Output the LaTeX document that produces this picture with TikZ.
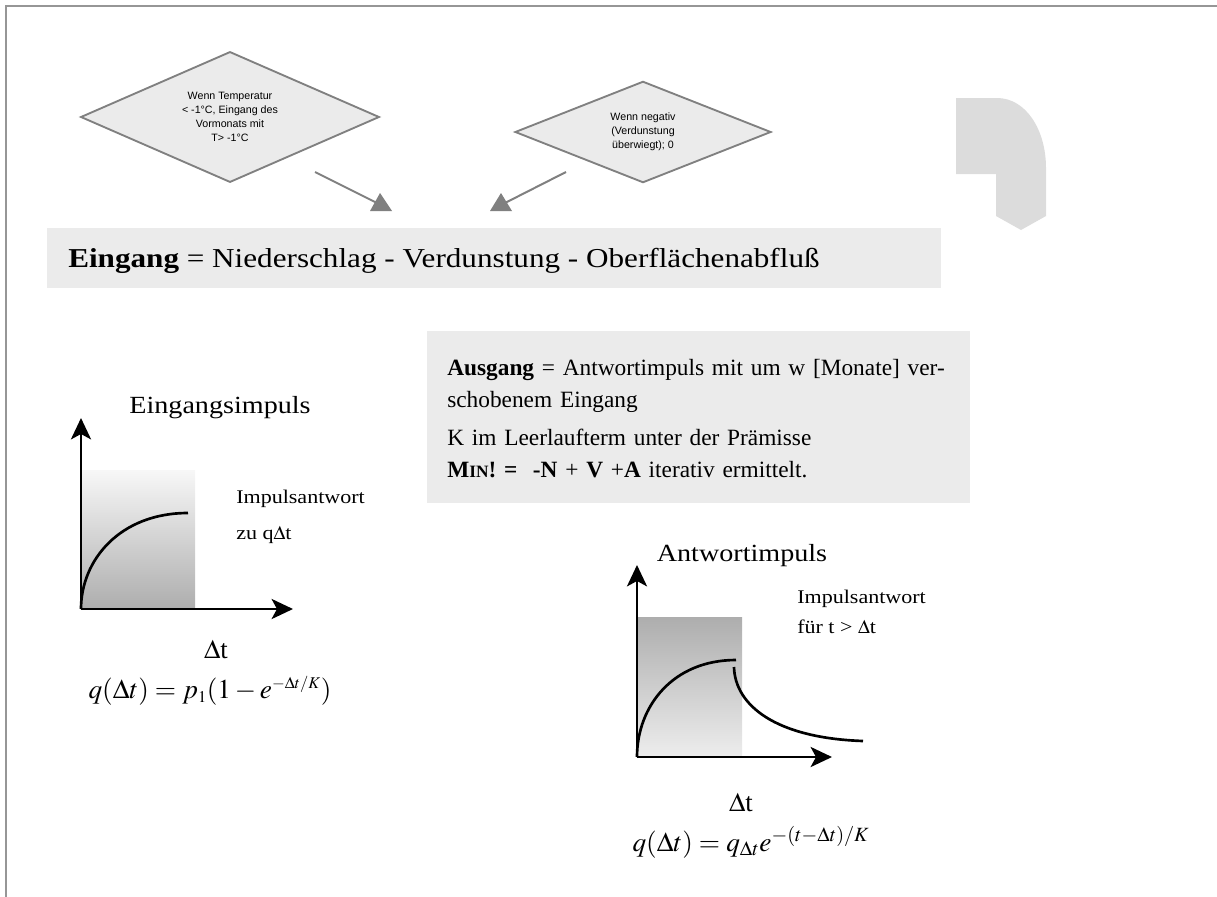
\documentclass[tikz,border=0pt]{standalone}
\usepackage{mathptmx}
\usepackage{fontspec}
\setmainfont{Liberation Serif}
\newfontfamily\pal{Liberation Serif}[FakeStretch=1.14]
\newfontfamily\arialfont{Liberation Sans}
\usetikzlibrary{shapes.geometric,arrows.meta,calc}
\definecolor{linegray}{HTML}{808080}
\definecolor{boxgray}{HTML}{EBEBEB}
\definecolor{shapegray}{HTML}{DCDCDC}
\definecolor{framegray}{HTML}{969696}
\begin{document}
\begin{tikzpicture}[x=0.75pt,y=-0.75pt,
  decision/.style={diamond, aspect=2.3, draw=linegray, line width=1.4pt, fill=boxgray, inner sep=0pt,
    align=center, font=\arialfont\fontsize{8}{10.5}\selectfont},
  connector/.style={draw=linegray, line width=1.5pt},
  infobox/.style={fill=boxgray, draw=none, inner sep=0pt, anchor=north west},
  axisarrow/.style={line width=2.2pt, -{Stealth[length=16pt,width=15pt,inset=4pt]}},
  response/.style={line width=2pt},
  graphtitle/.style={font=\pal\fontsize{18.5}{18.5}\selectfont, anchor=base, inner sep=0pt},
  graphlabel/.style={font=\pal\fontsize{14.5}{14.5}\selectfont, anchor=base west, inner sep=0pt},
  dtlabel/.style={font=\fontsize{20}{20}\selectfont, anchor=base, inner sep=0pt},
  formula/.style={font=\fontsize{20.5}{20.5}\selectfont, anchor=base, inner sep=0pt}
]
\useasboundingbox (0,0) rectangle (1217,896);
% frame
\draw[framegray, line width=1.6pt] (6,900) -- (6,6) -- (1222,6);

% decisions
\node[decision, minimum width=224pt, minimum height=98pt] (d1) at (230,117)
  {Wenn Temperatur\\< -1°C, Eingang des\\Vormonats mit\\T> -1°C};
\node[decision, minimum width=192pt, minimum height=76pt] (d2) at (643,132)
  {Wenn negativ\\(Verdunstung\\überwiegt); 0};

% connectors with upright triangle heads
\coordinate (c1s) at (315,172);
\coordinate (c1e) at (381,205);
\coordinate (c2s) at (566,172);
\coordinate (c2e) at (501,205);
\draw[connector] (c1s) -- (c1e);
\draw[connector] (c2s) -- (c2e);
\fill[linegray] ($(c1e)+(-11,6)$) -- ($(c1e)+(11,6)$) -- ($(c1e)+(-1,-12)$) -- cycle;
\fill[linegray] ($(c2e)+(-11,6)$) -- ($(c2e)+(11,6)$) -- ($(c2e)+(0,-12)$) -- cycle;

% gray shape right
\fill[shapegray] (956,98) -- (997,98) .. controls (1026,98) and (1046,130) .. (1046,168)
  -- (1046,216) -- (1021,230) -- (996,216) -- (996,174) -- (956,174) -- cycle;

% Eingang box
\node[infobox, minimum width=670.5pt, minimum height=45pt] (ebox) at (47,228) {};
\node[anchor=base west, inner sep=0pt, font=\pal\fontsize{20.5}{20.5}\selectfont] (etext) at (68,267)
  {\textbf{Eingang} = Niederschlag - Verdunstung - Oberflächenabfluß};

% Ausgang box
\node[infobox, minimum width=407.25pt, minimum height=129pt] (abox) at (427,331) {};
\node[anchor=base west, inner sep=0pt, text width=377.25pt, align=left,
      font=\fontsize{17.5}{24}\selectfont] (atext) at (447,375)
  {\makebox[\linewidth][s]{\textbf{Ausgang} = Antwortimpuls mit um w [Monate] ver-}\\
   schobenem Eingang\\[5pt]
   K im Leerlaufterm unter der Prämisse\\
   \textbf{M{\fontsize{13}{13}\selectfont IN}! =}\ \ \textbf{-N} + \textbf{V} +\textbf{A} iterativ ermittelt.};

% left graph
\coordinate (o1) at (81,609);
\coordinate (y1) at (81,418);
\coordinate (x1) at (293,609);
\shade[top color=black!3, bottom color=black!32] (81,470) rectangle (195,609);
\draw[axisarrow] (o1) -- (y1);
\draw[axisarrow] (o1) -- (x1);
\draw[response] (o1) .. controls (81,560) and (120,513) .. (188,513);
\node[graphtitle] (t1) at (220,413) {Eingangsimpuls};
\node[graphlabel] (l1a) at (236,503) {Impulsantwort};
\node[graphlabel] (l1b) at (236,539) {zu q$\Delta$t};
\node[dtlabel] (dt1) at (216,658) {$\Delta$t};
\node[formula] (f1) at (210,698) {$q(\Delta t) = p_{\scriptscriptstyle 1}(1 - e^{\scriptscriptstyle -\Delta t/K})$};

% right graph
\coordinate (o2) at (637,757);
\coordinate (y2) at (637,565);
\coordinate (x2) at (832,757);
\shade[top color=black!32, bottom color=black!7] (637,617) rectangle (742,757);
\draw[axisarrow] (o2) -- (y2);
\draw[axisarrow] (o2) -- (x2);
\draw[response] (o2) .. controls (637,706) and (673,660) .. (736,660);
\draw[response] (734,667) .. controls (735,705) and (775,738) .. (863,741);
\node[graphtitle] (t2) at (742,561) {Antwortimpuls};
\node[graphlabel] (l2a) at (797,603) {Impulsantwort};
\node[graphlabel] (l2b) at (797,633) {für t > $\Delta$t};
\node[dtlabel] (dt2) at (741,811) {$\Delta$t};
\node[formula] (f2) at (751,851) {$q(\Delta t) = q_{\Delta t}e^{-(t-\Delta t)/K}$};
\end{tikzpicture}
\end{document}
